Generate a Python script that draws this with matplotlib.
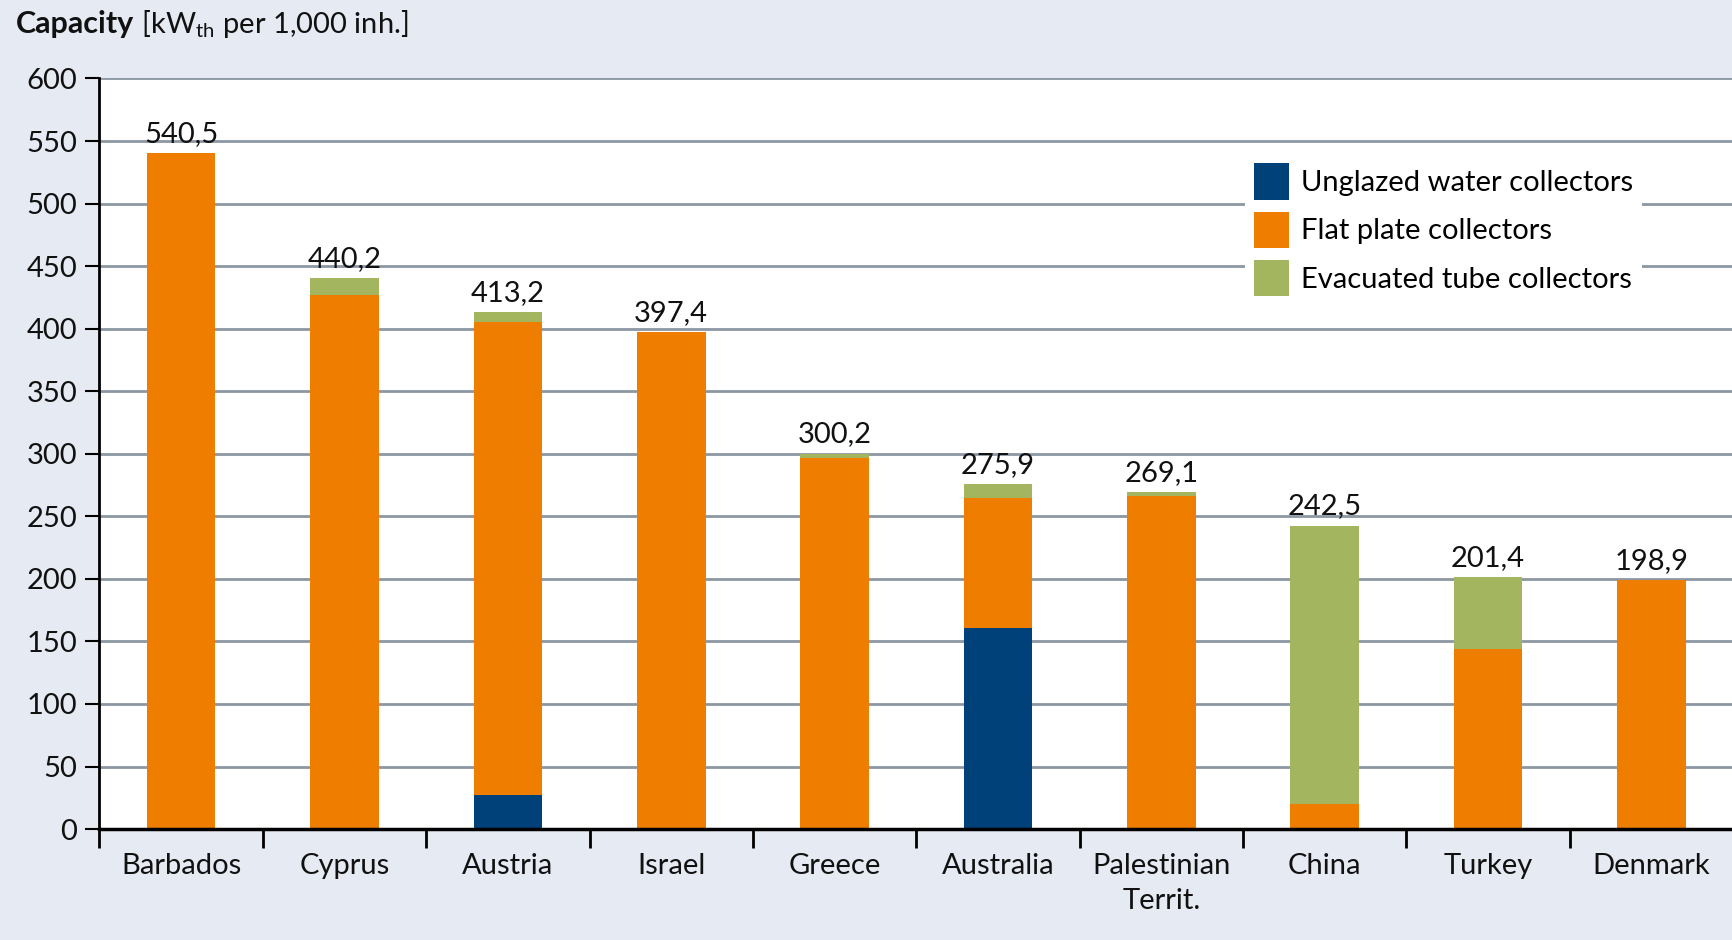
import numpy as np
import matplotlib
matplotlib.use("Agg")
import matplotlib.pyplot as plt
from matplotlib.ticker import MultipleLocator, FixedLocator

plt.rcParams['font.family'] = ['Lato', 'DejaVu Sans']
plt.rcParams['mathtext.fontset'] = 'custom'
plt.rcParams['mathtext.rm'] = 'Lato'

countries = ['Barbados', 'Cyprus', 'Austria', 'Israel', 'Greece', 'Australia',
             'Palestinian\nTerrit.', 'China', 'Turkey', 'Denmark']
totals = [540.5, 440.2, 413.2, 397.4, 300.2, 275.9, 269.1, 242.5, 201.4, 198.9]
unglazed = [0, 0, 27, 0, 0, 161, 0, 0, 0, 0]
flat_plate = [540.5, 427, 378, 397.4, 297, 104, 266, 20, 144, 198.9]
evacuated = [t - u - f for t, u, f in zip(totals, unglazed, flat_plate)]

c_unglazed = '#00417a'
c_flat = '#ef7d00'
c_evac = '#a3b65f'
bg = '#e6eaf3'

fig = plt.figure(figsize=(17.33, 9.4), dpi=100, facecolor=bg)
ax = fig.add_axes([0.0574, 0.118, 0.9426, 0.7985])
ax.set_facecolor('white')

x = np.arange(len(countries))
w = 0.42
ax.bar(x, unglazed, w, color=c_unglazed, label='Unglazed water collectors', zorder=3)
ax.bar(x, flat_plate, w, bottom=unglazed, color=c_flat, label='Flat plate collectors', zorder=3)
base = np.array(unglazed) + np.array(flat_plate)
ax.bar(x, evacuated, w, bottom=base, color=c_evac, label='Evacuated tube collectors', zorder=3)

# value labels with decimal comma
for xi, t in zip(x, totals):
    ax.text(xi, t + 5, f'{t:.1f}'.replace('.', ','), ha='center', va='bottom',
            fontsize=21, color='#111111', zorder=4)

ax.set_xlim(-0.5, len(countries) - 0.5)
ax.set_ylim(0, 600)
ax.yaxis.set_major_locator(MultipleLocator(50))
ax.grid(axis='y', color='#8c97a3', linewidth=2, zorder=1)
ax.set_axisbelow(True)

for s in ['top', 'right']:
    ax.spines[s].set_visible(False)
ax.spines['left'].set_linewidth(2)
ax.spines['bottom'].set_linewidth(2.5)
ax.spines['bottom'].set_zorder(5)

ax.set_xticks(x)
ax.set_xticklabels(countries, fontsize=21, color='#111111', linespacing=1.45)
ax.tick_params(axis='x', which='major', length=0, pad=17)
ax.xaxis.set_minor_locator(FixedLocator(np.arange(-0.5, len(countries) + 0.5, 1)))
ax.tick_params(axis='x', which='minor', length=14, width=2, direction='out', color='black')
ax.tick_params(axis='y', length=10, width=1.5, labelsize=21, labelcolor='#111111', pad=6)

leg = ax.legend(loc='upper right', bbox_to_anchor=(0.953, 0.918), fontsize=21,
                frameon=True, facecolor='white', edgecolor='none', framealpha=1,
                handlelength=1.2, handleheight=1.55, handletextpad=0.4,
                labelspacing=0.4, borderpad=0.3, fancybox=False)
leg.set_zorder(6)

t1 = fig.text(0.009, 0.975, 'Capacity', fontsize=22, fontweight='bold',
              color='#111111', va='center', ha='left')
ax.annotate(r' [kW$_{\mathrm{th}}$ per 1,000 inh.]', xy=(1, 0.5), xycoords=t1,
            va='center', ha='left', fontsize=21, color='#111111', annotation_clip=False)

fig.savefig('out.png', dpi=100, facecolor=bg)
